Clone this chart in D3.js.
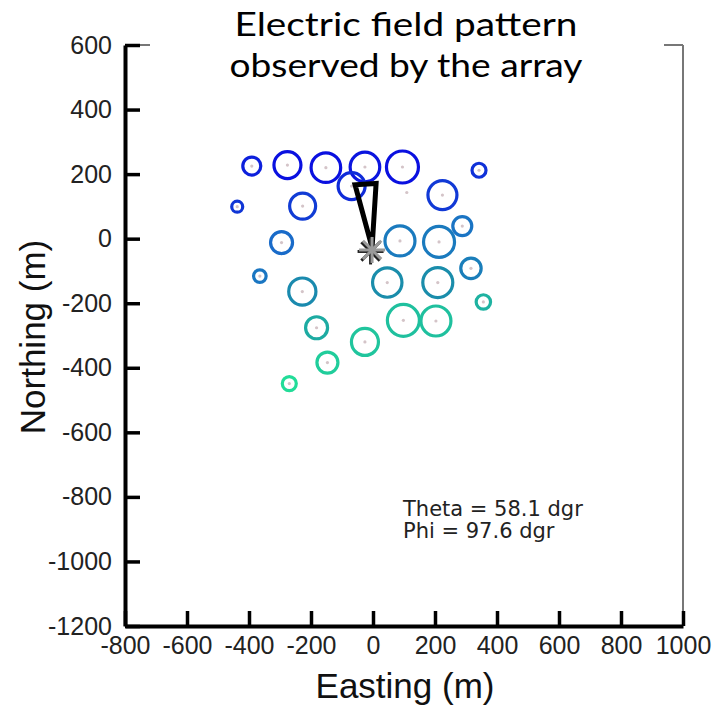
<!DOCTYPE html>
<html>
<head>
<meta charset="utf-8">
<script src="https://cdn.jsdelivr.net/npm/d3@7"></script>
<style>
  html, body { margin: 0; padding: 0; background: #fff; }
  svg { display: block; }
</style>
</head>
<body>
<svg id="chart" width="717" height="710"></svg>
<script>
// ---- data ----
const titleLines = ["Electric field pattern", "observed by the array"];
const xLabel = "Easting (m)";
const yLabel = "Northing (m)";
const infoLines = ["Theta = 58.1 dgr", "Phi = 97.6 dgr"];

const xTicks = [-800, -600, -400, -200, 0, 200, 400, 600, 800, 1000];
const yTicks = [-1200, -1000, -800, -600, -400, -200, 0, 200, 400, 600];

// antenna positions (m)
const stationE = [-391, -276, -152, -26, 95, 342, -69, 109, 224, -438, -227, 288, -295, 87, 213, -365, 316, -228, 46, 209, 356, -182, 98, 203, -26, -147, -270];
const stationN = [225, 228, 220, 222, 222, 212, 163, 143, 135, 99, 101, 39, -12, -7, -10, -116, -92, -164, -136, -136, -196, -276, -253, -255, -320, -384, -449];
// field amplitude (arbitrary units, drawn as circle radius)
const stationAmp = [9, 13.5, 14.8, 14.8, 16, 7, 13.5, 0, 14.5, 5.5, 13, 9.5, 11, 15, 15.5, 6.3, 10.2, 13.6, 14.7, 15, 7.2, 11, 16, 15, 13.5, 10.5, 7];
// relative arrival time (0 = earliest, 1 = latest), drawn as colour
const stationT = [0.06, 0, 0, 0.02, 0, 0.12, 0.1, 0.2, 0.15, 0.14, 0.16, 0.38, 0.33, 0.43, 0.43, 0.4, 0.46, 0.55, 0.58, 0.58, 0.78, 0.74, 0.85, 0.85, 0.88, 0.92, 1];

// shower core and projected arrival direction
const coreE = [-3];
const coreN = [-35];
const arrowE = [-3, -58, 10, -3];
const arrowN = [-28, 167, 171, -28];

// ---- drawing ----
const svg = d3.select("#chart");
const x = d3.scaleLinear().domain([-800, 1000]).range([125, 683]);
const y = d3.scaleLinear().domain([-1200, 600]).range([626, 45]);
const r = d3.scaleLinear().domain([0, 17]).range([0, 17]);
const color = d3.scaleLinear()
  .domain([0, 0.35, 0.6, 1])
  .range(["#0a10e0", "#1a70c8", "#1a90a8", "#22dc98"]);

// frame (top and right, thin grey)
svg.append("line").attr("x1", x(-800)).attr("x2", x(1000)).attr("y1", y(600)).attr("y2", y(600))
  .attr("stroke", "#777").attr("stroke-width", 2);
svg.append("line").attr("x1", x(1000)).attr("x2", x(1000)).attr("y1", y(600)).attr("y2", y(-1200))
  .attr("stroke", "#777").attr("stroke-width", 2);

// axes
const fontTick = "'Liberation Sans', Arial, sans-serif";
const fmt = d => String(d);
const gy = svg.append("g").attr("transform", `translate(${x(-800)},0)`)
  .call(d3.axisLeft(y).tickValues(yTicks).tickSizeInner(-15).tickSizeOuter(0).tickPadding(13).tickFormat(fmt));
const gx = svg.append("g").attr("transform", `translate(0,${y(-1200)})`)
  .call(d3.axisBottom(x).tickValues(xTicks).tickSizeInner(-15).tickSizeOuter(0).tickPadding(10).tickFormat(fmt));
[gx, gy].forEach(g => {
  g.select(".domain").attr("stroke", "#000").attr("stroke-width", 4);
  g.selectAll(".tick line").attr("stroke", "#000").attr("stroke-width", 3.5);
  g.selectAll(".tick text").attr("fill", "#222").style("font-family", fontTick).style("font-size", "25px");
});

// axis titles
svg.append("text").attr("x", 405).attr("y", 698).attr("text-anchor", "middle")
  .style("font-family", fontTick).style("font-size", "35px").attr("fill", "#111").text(xLabel);
svg.append("text").attr("transform", "translate(45,337) rotate(-90)").attr("text-anchor", "middle")
  .style("font-family", fontTick).style("font-size", "35px").attr("fill", "#111").text(yLabel);

// stations
const stations = stationE.map((e, i) => ({ e, n: stationN[i], a: stationAmp[i], t: stationT[i] }));
svg.append("g").selectAll("circle").data(stations.filter(d => d.a > 0)).join("circle")
  .attr("cx", d => x(d.e)).attr("cy", d => y(d.n)).attr("r", d => r(d.a))
  .attr("fill", "none").attr("stroke", d => color(d.t)).attr("stroke-width", 3.2);
svg.append("g").selectAll("circle").data(stations).join("circle")
  .attr("cx", d => x(d.e)).attr("cy", d => y(d.n)).attr("r", 1.6)
  .attr("fill", "#d4c4c8");

// direction triangle
const arrowPts = arrowE.map((e, i) => [x(e), y(arrowN[i])]);
svg.append("path").attr("d", d3.line()(arrowPts))
  .attr("fill", "none").attr("stroke", "#000").attr("stroke-width", 5).attr("stroke-linejoin", "miter");

// core star
const cx0 = x(coreE[0]), cy0 = y(coreN[0]), sr = 13;
const angles = [0, 45, 90, 135];
const star = svg.append("g");
angles.forEach(a => {
  const dx = sr * Math.cos(a * Math.PI / 180), dy = sr * Math.sin(a * Math.PI / 180);
  star.append("line").attr("x1", cx0 - dx - 1.5).attr("y1", cy0 - dy + 1.5).attr("x2", cx0 + dx - 1.5).attr("y2", cy0 + dy + 1.5)
    .attr("stroke", "#222").attr("stroke-width", 3);
});
angles.forEach(a => {
  const dx = sr * Math.cos(a * Math.PI / 180), dy = sr * Math.sin(a * Math.PI / 180);
  star.append("line").attr("x1", cx0 - dx).attr("y1", cy0 - dy).attr("x2", cx0 + dx).attr("y2", cy0 + dy)
    .attr("stroke", "#9a9a9a").attr("stroke-width", 3);
});

// info text
svg.append("g").selectAll("text").data(infoLines).join("text")
  .attr("x", 403).attr("y", (d, i) => 516 + i * 22)
  .style("font-family", "'DejaVu Sans', sans-serif").style("font-size", "21px").attr("fill", "#222")
  .text(d => d);

// title (pasted over the frame)
svg.append("rect").attr("x", 150).attr("y", 0).attr("width", 514).attr("height", 92).attr("fill", "#fff");
const titleW = [343, 353];
svg.append("g").selectAll("text").data(titleLines).join("text")
  .attr("x", 406).attr("y", (d, i) => 36 + i * 41).attr("text-anchor", "middle")
  .style("font-family", "Lato, 'Open Sans', sans-serif").style("font-size", "32px").attr("fill", "#000")
  .attr("textLength", (d, i) => titleW[i]).attr("lengthAdjust", "spacingAndGlyphs")
  .text(d => d);
</script>
</body>
</html>
